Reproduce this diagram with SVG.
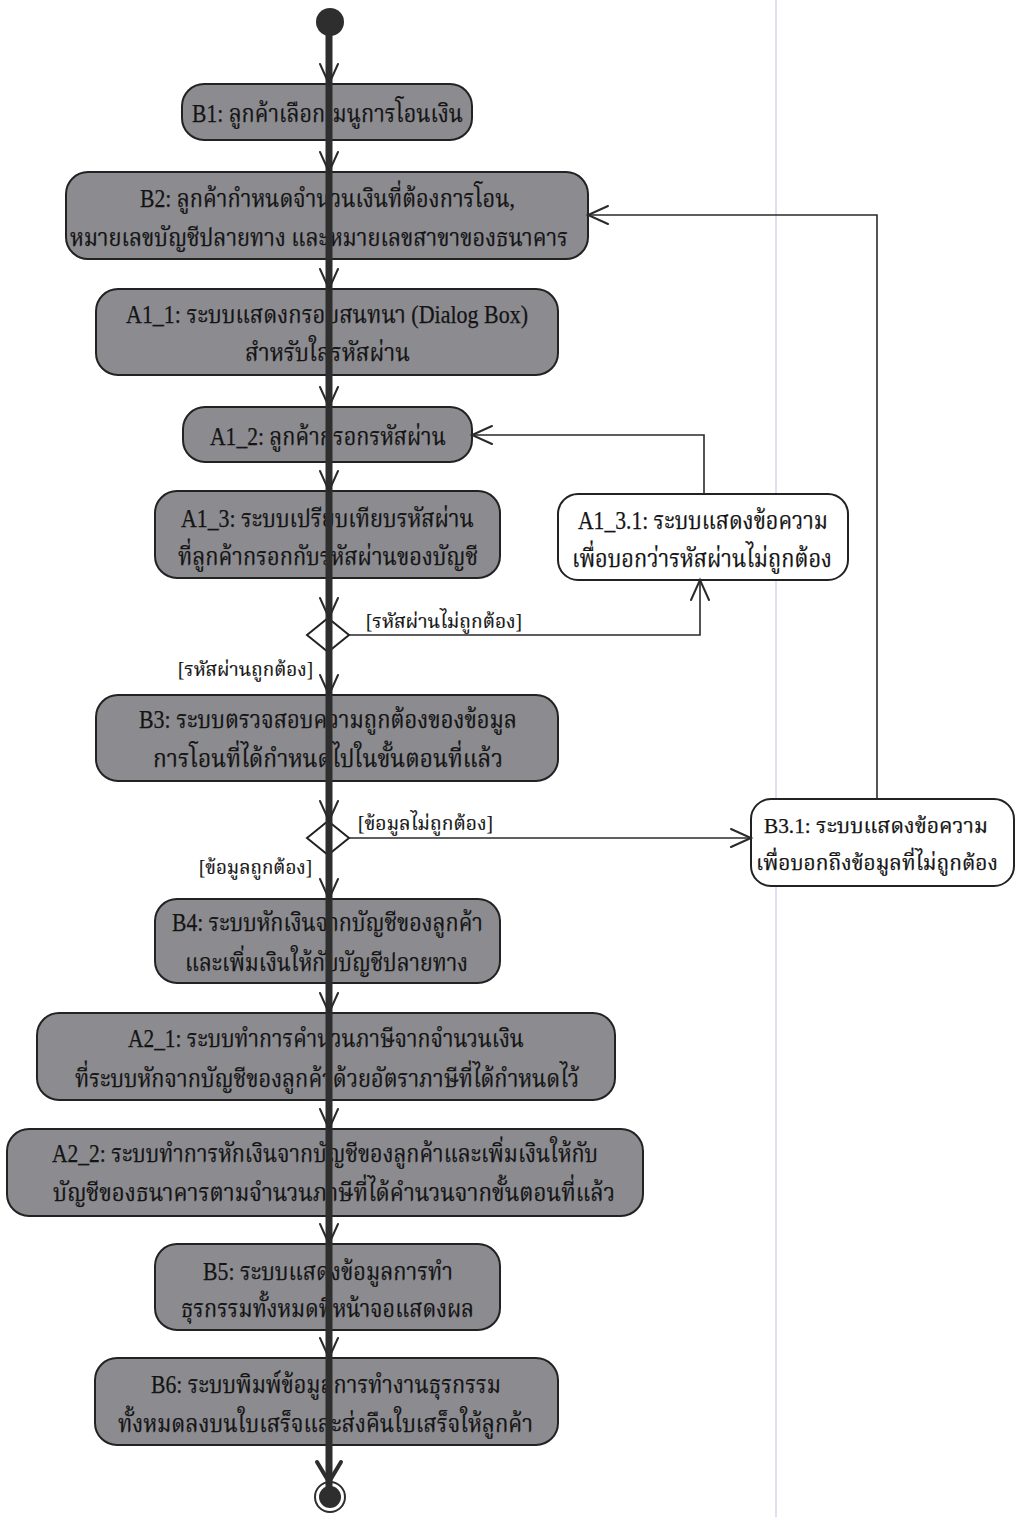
<svg xmlns="http://www.w3.org/2000/svg" width="1018" height="1517" viewBox="0 0 1018 1517">
  <style>
    .act { fill: #8b8b90; stroke: #222222; stroke-width: 2; }
    .alt { fill: #ffffff; stroke: #222222; stroke-width: 2; }
    .t { font-family: "Liberation Serif", "Noto Serif Thai", "Noto Sans Thai", "DejaVu Serif", serif; font-size: 25px; fill: #141414; stroke: #141414; stroke-width: 0.25; }
    .ts { font-size: 21px; }
    .g { font-family: "Liberation Serif", "Noto Serif Thai", "Noto Sans Thai", "DejaVu Serif", serif; font-size: 20px; fill: #141414; stroke: #141414; stroke-width: 0.2; }
    .flow { fill: none; stroke: #2a2a2a; stroke-width: 1.6; }
    .spine { fill: none; stroke: #2e2e2e; stroke-width: 7; }
    .head { fill: none; stroke: #2a2a2a; stroke-width: 2; stroke-linecap: round; }
  </style>

  <rect width="1018" height="1517" fill="#ffffff"/>
  <!-- faint page fold line -->
  <line x1="776" y1="0" x2="776" y2="1517" stroke="#e2def2" stroke-width="2"/>

  <!-- start -->
  <g id="start">
    <circle cx="330" cy="22" r="14" fill="#2e2e2e"/>
  </g>

  <g id="B1">
    <rect class="act" x="182" y="84" width="290" height="56" rx="22"/>
    <text class="t" x="192" y="122" textLength="271" lengthAdjust="spacingAndGlyphs">B1: ลูกค้าเลือกเมนูการโอนเงิน</text>
  </g>

  <g id="B2">
    <rect class="act" x="66" y="172" width="522" height="87" rx="22"/>
    <text class="t" x="140" y="207" textLength="375" lengthAdjust="spacingAndGlyphs">B2: ลูกค้ากำหนดจำนวนเงินที่ต้องการโอน,</text>
    <text class="t" x="70" y="246" textLength="498" lengthAdjust="spacingAndGlyphs">หมายเลขบัญชีปลายทาง และหมายเลขสาขาของธนาคาร</text>
  </g>

  <g id="A1_1">
    <rect class="act" x="96" y="289" width="462" height="86" rx="22"/>
    <text class="t" x="126" y="323" textLength="402" lengthAdjust="spacingAndGlyphs">A1_1: ระบบแสดงกรอบสนทนา (Dialog Box)</text>
    <text class="t" x="245" y="361" textLength="165" lengthAdjust="spacingAndGlyphs">สำหรับใส่รหัสผ่าน</text>
  </g>

  <g id="A1_2">
    <rect class="act" x="183" y="407" width="289" height="55" rx="22"/>
    <text class="t" x="210" y="445" textLength="236" lengthAdjust="spacingAndGlyphs">A1_2: ลูกค้ากรอกรหัสผ่าน</text>
  </g>

  <g id="A1_3">
    <rect class="act" x="155" y="491" width="345" height="87" rx="22"/>
    <text class="t" x="181" y="527" textLength="293" lengthAdjust="spacingAndGlyphs">A1_3: ระบบเปรียบเทียบรหัสผ่าน</text>
    <text class="t" x="178" y="565" textLength="300" lengthAdjust="spacingAndGlyphs">ที่ลูกค้ากรอกกับรหัสผ่านของบัญชี</text>
  </g>

  <g id="A1_3_1">
    <rect class="alt" x="558" y="494" width="290" height="86" rx="20"/>
    <text class="t" x="578" y="529" textLength="250" lengthAdjust="spacingAndGlyphs">A1_3.1: ระบบแสดงข้อความ</text>
    <text class="t" x="572" y="567" textLength="260" lengthAdjust="spacingAndGlyphs">เพื่อบอกว่ารหัสผ่านไม่ถูกต้อง</text>
  </g>

  <g id="D1">
    <polygon points="307,635 328,618 349,635 328,652" fill="#ffffff" stroke="#222222" stroke-width="2"/>
  </g>

  <g id="B3">
    <rect class="act" x="96" y="695" width="462" height="86" rx="22"/>
    <text class="t" x="139" y="728" textLength="378" lengthAdjust="spacingAndGlyphs">B3: ระบบตรวจสอบความถูกต้องของข้อมูล</text>
    <text class="t" x="153" y="767" textLength="350" lengthAdjust="spacingAndGlyphs">การโอนที่ได้กำหนดไปในขั้นตอนที่แล้ว</text>
  </g>

  <g id="D2">
    <polygon points="307,838 328,821 349,838 328,855" fill="#ffffff" stroke="#222222" stroke-width="2"/>
  </g>

  <g id="B3_1">
    <rect class="alt" x="751" y="799" width="263" height="87" rx="20"/>
    <text class="t ts" x="764" y="833" textLength="224" lengthAdjust="spacingAndGlyphs">B3.1: ระบบแสดงข้อความ</text>
    <text class="t ts" x="756" y="870" textLength="242" lengthAdjust="spacingAndGlyphs">เพื่อบอกถึงข้อมูลที่ไม่ถูกต้อง</text>
  </g>

  <g id="B4">
    <rect class="act" x="155" y="899" width="345" height="84" rx="22"/>
    <text class="t" x="172" y="931" textLength="311" lengthAdjust="spacingAndGlyphs">B4: ระบบหักเงินจากบัญชีของลูกค้า</text>
    <text class="t" x="185" y="971" textLength="283" lengthAdjust="spacingAndGlyphs">และเพิ่มเงินให้กับบัญชีปลายทาง</text>
  </g>

  <g id="A2_1">
    <rect class="act" x="37" y="1013" width="578" height="87" rx="22"/>
    <text class="t" x="128" y="1047" textLength="396" lengthAdjust="spacingAndGlyphs">A2_1: ระบบทำการคำนวนภาษีจากจำนวนเงิน</text>
    <text class="t" x="75" y="1087" textLength="504" lengthAdjust="spacingAndGlyphs">ที่ระบบหักจากบัญชีของลูกค้าด้วยอัตราภาษีที่ได้กำหนดไว้</text>
  </g>

  <g id="A2_2">
    <rect class="act" x="7" y="1129" width="636" height="87" rx="22"/>
    <text class="t" x="52" y="1162" textLength="546" lengthAdjust="spacingAndGlyphs">A2_2: ระบบทำการหักเงินจากบัญชีของลูกค้าและเพิ่มเงินให้กับ</text>
    <text class="t" x="53" y="1201" textLength="562" lengthAdjust="spacingAndGlyphs">บัญชีของธนาคารตามจำนวนภาษีที่ได้คำนวนจากขั้นตอนที่แล้ว</text>
  </g>

  <g id="B5">
    <rect class="act" x="155" y="1244" width="345" height="86" rx="22"/>
    <text class="t" x="203" y="1280" textLength="250" lengthAdjust="spacingAndGlyphs">B5: ระบบแสดงข้อมูลการทำ</text>
    <text class="t" x="181" y="1317" textLength="293" lengthAdjust="spacingAndGlyphs">ธุรกรรมทั้งหมดที่หน้าจอแสดงผล</text>
  </g>

  <g id="B6">
    <rect class="act" x="95" y="1358" width="463" height="87" rx="22"/>
    <text class="t" x="151" y="1393" textLength="350" lengthAdjust="spacingAndGlyphs">B6: ระบบพิมพ์ข้อมูลการทำงานธุรกรรม</text>
    <text class="t" x="118" y="1432" textLength="415" lengthAdjust="spacingAndGlyphs">ทั้งหมดลงบนใบเสร็จและส่งคืนใบเสร็จให้ลูกค้า</text>
  </g>

  <!-- end -->
  <g id="end">
    <circle cx="330" cy="1497" r="15" fill="#ffffff" stroke="#2e2e2e" stroke-width="2"/>
    <circle cx="330" cy="1497" r="11" fill="#2e2e2e"/>
  </g>

  <g id="connectors">
    <!-- main flow spine -->
    <line class="spine" x1="329" y1="22" x2="329" y2="1492"/>
    <!-- arrowheads on the spine -->
    <path class="head" d="M320,64 L329,84 L338,64"/>
    <path class="head" d="M320,152 L329,172 L338,152"/>
    <path class="head" d="M320,269 L329,289 L338,269"/>
    <path class="head" d="M320,387 L329,407 L338,387"/>
    <path class="head" d="M320,471 L329,491 L338,471"/>
    <path class="head" d="M320,598 L329,618 L338,598"/>
    <path class="head" d="M320,675 L329,695 L338,675"/>
    <path class="head" d="M320,801 L329,821 L338,801"/>
    <path class="head" d="M320,879 L329,899 L338,879"/>
    <path class="head" d="M320,993 L329,1013 L338,993"/>
    <path class="head" d="M320,1109 L329,1129 L338,1109"/>
    <path class="head" d="M320,1224 L329,1244 L338,1224"/>
    <path class="head" d="M320,1338 L329,1358 L338,1338"/>
    <path d="M317,1462 L329,1482 L341,1462" fill="none" stroke="#2e2e2e" stroke-width="4" stroke-linecap="round"/>

    <!-- wrong password: decision -> message -> back to password entry -->
    <polyline class="flow" points="349,635 700,635 700,580"/>
    <path class="head" d="M691,600 L700,580 L709,600"/>
    <polyline class="flow" points="704,494 704,435 472,435"/>
    <path class="head" d="M492,426 L472,435 L492,444"/>
    <text class="g" x="366" y="628" textLength="156" lengthAdjust="spacingAndGlyphs">[รหัสผ่านไม่ถูกต้อง]</text>
    <text class="g" x="178" y="676" textLength="135" lengthAdjust="spacingAndGlyphs">[รหัสผ่านถูกต้อง]</text>

    <!-- invalid data: decision -> message -> back to transfer details -->
    <line class="flow" x1="349" y1="838" x2="751" y2="838"/>
    <path class="head" d="M731,829 L751,838 L731,847"/>
    <polyline class="flow" points="877,799 877,215 588,215"/>
    <path class="head" d="M608,206 L588,215 L608,224"/>
    <text class="g" x="358" y="830" textLength="135" lengthAdjust="spacingAndGlyphs">[ข้อมูลไม่ถูกต้อง]</text>
    <text class="g" x="199" y="874" textLength="113" lengthAdjust="spacingAndGlyphs">[ข้อมูลถูกต้อง]</text>
  </g>
</svg>
